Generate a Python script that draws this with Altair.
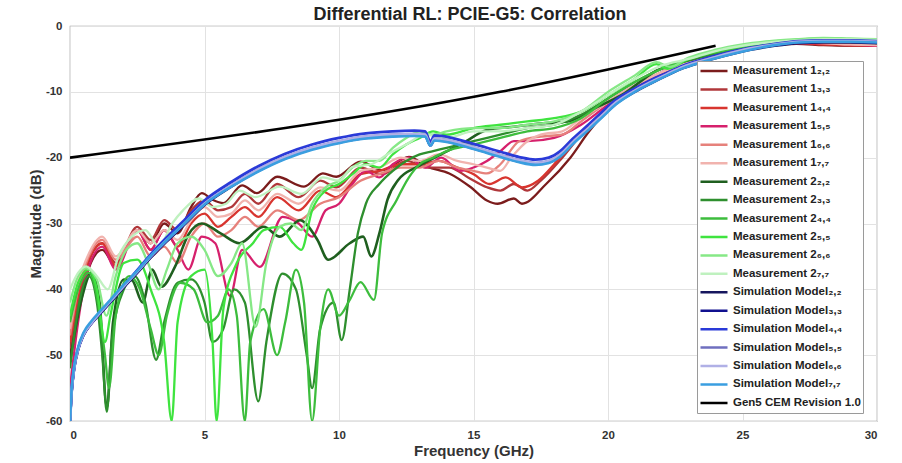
import altair as alt
import pandas as pd

FONT = "Liberation Sans"
TITLE = "Differential RL: PCIE-G5: Correlation"

# ---- Measurement 1 (frequency GHz, return loss dB) ----
M1_22 = [(0, -50), (0.3, -43), (0.6, -38), (1.2, -34), (1.7, -36.5), (2.5, -31), (3.0, -33), (3.5, -30),
         (4.0, -31.5), (4.5, -27.5), (4.9, -25.4), (5.3, -26.4), (5.7, -26.9), (6.4, -24.2), (6.95, -25.4),
         (7.7, -22.9), (8.7, -24.4), (9.4, -22.4), (9.9, -22.9), (10.8, -20.6), (11.6, -21.9), (12.6, -19.9),
         (13.3, -21.4), (14.1, -22.4), (14.9, -24.5), (15.5, -26.5), (15.9, -27), (16.5, -26.2), (16.8, -27),
         (17.7, -24), (18.6, -20), (19.3, -16), (20, -12.8), (21, -9.8), (22, -7.5), (23, -5.8), (24, -4.5),
         (25, -3.6), (26, -3), (27, -2.7), (28, -2.9), (29, -3), (30, -3)]
M1_33 = [(0, -49), (0.3, -42), (0.6, -37), (1.2, -33), (1.7, -36), (2.5, -30.5), (3.0, -32.5), (3.5, -29.5),
         (4.0, -31), (4.5, -28), (5.0, -26.5), (5.5, -28), (6.0, -27.5), (6.5, -25.5), (7.0, -27), (7.7, -24),
         (8.5, -26), (9.3, -23.5), (9.9, -24.5), (10.8, -21.5), (11.6, -22.5), (12.5, -20.5), (13.3, -21.5),
         (14.1, -21.5), (14.8, -23), (15.5, -24.5), (16, -25), (16.5, -24), (17, -25), (17.5, -23.5),
         (18.3, -20), (19, -16.5), (20, -12.5), (21, -9.5), (22, -7.2), (23, -5.6), (24, -4.3), (25, -3.5),
         (26, -2.9), (27, -2.6), (28, -2.8), (29, -3), (30, -3)]
M1_44 = [(0, -48), (0.3, -41), (0.6, -36.5), (1.2, -33), (1.7, -36.5), (2.5, -31), (3.0, -34), (3.5, -31),
         (4.0, -33.5), (4.5, -30), (5.0, -28.5), (5.5, -30.5), (6.0, -29), (6.5, -27.5), (7.0, -29), (7.7, -26),
         (8.5, -28), (9.3, -25), (9.9, -26), (10.8, -22.5), (11.5, -22), (12.3, -21), (13.0, -21), (13.7, -20.5),
         (14.4, -21.5), (15, -22.5), (15.6, -24), (16.2, -23), (16.8, -24.5), (17.4, -23.5), (18, -21),
         (18.6, -18), (19.3, -15.5), (20, -12.5), (21, -9.5), (22, -7.2), (23, -5.6), (24, -4.4), (25, -3.5),
         (26, -2.9), (27, -2.6), (28, -2.8), (29, -2.9), (30, -3)]
M1_55 = [(0, -55), (0.3, -45), (0.6, -38), (1.2, -33.5), (1.7, -37), (2.5, -31), (3.0, -34), (3.5, -31),
         (4.0, -34), (4.4, -37), (4.9, -32), (5.4, -33), (5.95, -41), (6.4, -34), (7.06, -36.6), (7.9, -29),
         (8.5, -30), (9.0, -32), (9.5, -28), (10, -27), (10.5, -24), (11, -22), (11.5, -23), (12, -21),
         (12.6, -20), (13.2, -21.5), (13.8, -20), (14.5, -22), (15, -21.5), (15.5, -20.5), (16, -19),
         (16.5, -17.5), (17, -17.5), (18, -17), (19, -15), (20, -12), (21, -9.5), (22, -7), (23, -5.5),
         (24, -4.5), (25, -3.6), (26, -3), (27, -2.6), (28, -2.6), (29, -2.8), (30, -3)]
M1_66 = [(0, -47), (0.3, -40), (0.6, -36), (1.2, -32.5), (1.7, -35.5), (2.5, -32), (3.0, -35), (3.5, -33.5),
         (4.0, -36), (4.5, -32), (5.0, -30), (5.5, -32), (6.0, -31), (6.5, -29), (7.0, -30.5), (7.7, -28),
         (8.5, -29.5), (9.3, -27), (10, -26), (10.8, -23.5), (11.5, -22.5), (12.3, -21.5), (13.0, -21.5),
         (13.7, -20.5), (14.4, -21.5), (15, -22), (15.5, -22.4), (16, -21), (16.7, -17.5), (17.5, -16.8),
         (18.3, -16.5), (19, -14.5), (20, -11.5), (21, -9), (22, -7), (23, -5.5), (24, -4.3), (25, -3.4),
         (26, -2.8), (27, -2.5), (28, -2.6), (29, -2.8), (30, -2.9)]
M1_77 = [(0, -46), (0.3, -39), (0.6, -35.5), (1.2, -32), (1.7, -35), (2.5, -31), (3.0, -33), (3.5, -31),
         (4.0, -32.5), (4.5, -29.5), (5.0, -27.5), (5.5, -29), (6.0, -28.5), (6.5, -26.5), (7.0, -28),
         (7.7, -25.5), (8.5, -27), (9.3, -24.5), (10, -25), (10.8, -22), (11.5, -21.5), (12.3, -20),
         (13.0, -20.5), (13.7, -19.5), (14.4, -20.5), (15, -21), (15.5, -21.5), (16, -22), (16.4, -20),
         (17, -17.5), (17.5, -16.5), (18.3, -16), (19, -14), (20, -11.5), (21, -9), (22, -7), (23, -5.5),
         (24, -4.3), (25, -3.4), (26, -2.8), (27, -2.5), (28, -2.6), (29, -2.8), (30, -2.9)]

# ---- Measurement 2 ----
M2_22 = [(0, -51), (0.4, -42), (0.8, -37.5), (1.1, -42), (1.37, -58), (1.6, -45), (2.0, -38.5), (2.3, -38.6),
         (2.7, -42), (3.05, -37), (3.4, -39.6), (3.9, -36.6), (4.4, -31.7), (4.9, -30), (5.6, -31.5),
         (6.3, -33), (7.2, -30.5), (7.8, -32), (8.55, -29.5), (9.2, -32.5), (9.6, -35.5), (10.4, -33),
         (10.9, -32), (11.2, -35), (11.5, -31.5), (11.8, -26.4), (12.2, -23.4), (12.9, -21.4), (13.6, -19.9),
         (14.6, -17.8), (15.5, -15.8), (16.5, -15.3), (17.5, -14.8), (18.5, -14.5), (19.5, -12.5),
         (20.5, -10.5), (21.8, -6.8), (23, -5.2), (24, -4.2), (25, -3.3), (26, -2.7), (27, -2.3), (28, -2.1),
         (29, -2.2), (30, -2.4)]
M2_33 = [(0, -52), (0.3, -43), (0.7, -38), (1.0, -42), (1.2, -50), (1.37, -58.6), (1.55, -48), (2.0, -40),
         (2.4, -38), (2.8, -42), (3.2, -50.7), (3.5, -45), (4.0, -39), (4.5, -38.5), (5.0, -42), (5.3, -48),
         (5.7, -46), (6.1, -40), (6.5, -42), (7.0, -57), (7.3, -48), (7.9, -37.6), (8.4, -40), (8.8, -50),
         (9.0, -55), (9.3, -46), (9.8, -42), (10.1, -47.7), (10.4, -40), (10.7, -31.5), (11.0, -27),
         (11.5, -24), (12.0, -22), (12.5, -20.5), (13, -19.5), (13.5, -19), (14, -18.5), (15, -17.5),
         (16, -16.5), (17, -15.5), (18, -15), (19, -13.5), (20, -11), (21, -8.5), (22, -6.5), (23, -5.2),
         (24, -4.2), (25, -3.3), (26, -2.7), (27, -2.3), (28, -2.2), (29, -2.3), (30, -2.6)]
M2_44 = [(0, -45), (0.3, -40), (0.7, -37.5), (1.0, -41), (1.3, -50), (1.45, -55), (1.7, -44), (2.2, -38),
         (2.6, -40), (3.0, -46), (3.3, -50), (3.6, -44), (4.1, -39), (4.6, -40), (5.1, -45), (5.5, -44),
         (5.9, -40), (6.2, -44), (6.5, -60), (6.7, -48), (7.2, -43), (7.7, -50), (8.0, -45), (8.4, -37),
         (8.7, -42), (9.0, -60), (9.3, -46), (9.6, -40), (10.0, -44), (10.4, -41.6), (10.8, -38.9),
         (11.3, -41.6), (11.6, -31.5), (12.15, -26.4), (12.6, -23), (13.0, -21), (13.5, -20), (14, -19),
         (15, -18), (16, -17), (17, -16), (18, -15.5), (19, -14), (20, -11), (21, -8.5), (22, -6.5), (23, -5),
         (24, -4), (25, -3.2), (26, -2.6), (27, -2.3), (28, -2.1), (29, -2.2), (30, -2.4)]
M2_55 = [(0, -44), (0.3, -39), (0.7, -37), (1.0, -40), (1.3, -48), (1.5, -44), (2.0, -36), (2.5, -35.5),
         (3.0, -40), (3.5, -48), (3.78, -60), (4.0, -45), (4.5, -38), (5.0, -37), (5.3, -48), (5.45, -60),
         (5.7, -43), (6.2, -36), (6.8, -33), (7.2, -31), (7.8, -30.5), (8.3, -33), (8.6, -34), (9.0, -28),
         (9.5, -25), (10.0, -24), (10.5, -22.5), (11.0, -21), (11.5, -21.5), (12.0, -19.5), (12.5, -18),
         (13.0, -17), (13.5, -16), (14, -16.5), (15, -15.5), (16, -15), (17, -14.5), (18, -14), (19, -13),
         (20, -10.5), (21, -8), (21.8, -5.8), (22.2, -6.5), (23, -5), (24, -3.8), (25, -3), (26, -2.4),
         (27, -2.1), (28, -1.9), (29, -2), (30, -2.1)]
M2_66 = [(0, -42), (0.3, -38), (0.6, -36.8), (1.0, -38.5), (1.35, -44), (1.7, -38), (2.1, -34), (2.5, -33),
         (2.9, -36), (3.3, -40), (3.6, -37), (4.0, -33), (4.5, -32), (5.0, -34), (5.5, -38), (6.0, -36),
         (6.4, -33), (6.9, -45.7), (7.3, -36), (7.8, -30.5), (8.2, -30), (8.6, -31), (9.0, -27), (9.5, -24.5),
         (10, -23.5), (10.5, -21.5), (11, -20.5), (11.5, -20.5), (12, -18.5), (12.5, -17), (13, -16),
         (13.5, -16.5), (14, -16), (15, -15.5), (16, -15.5), (17, -15), (18, -14.5), (19, -13), (20, -10),
         (21, -7.5), (21.8, -5.5), (22.3, -6.2), (23, -4.8), (24, -3.6), (25, -2.8), (26, -2.3), (27, -2),
         (28, -1.8), (29, -1.9), (30, -2)]
M2_77 = [(0, -40), (0.3, -37.5), (0.6, -36.5), (1.0, -38), (1.4, -40), (1.8, -35), (2.3, -32), (2.8, -31),
         (3.3, -33.5), (3.8, -30), (4.2, -28), (4.8, -26.2), (5.3, -27.5), (5.8, -27), (6.3, -25), (6.9, -26),
         (7.8, -24.4), (8.6, -25.5), (9.4, -23), (10, -23.5), (10.5, -21.4), (11.2, -21), (11.8, -19.5),
         (12.5, -18), (13.2, -16.5), (14, -17), (15, -16), (16, -16), (17, -15.5), (18, -15), (19, -13),
         (20, -10.5), (21, -8), (22, -6), (23, -5), (24, -3.8), (25, -3), (26, -2.5), (27, -2.2), (28, -2),
         (29, -2), (30, -2.1)]

# ---- Simulation models (shared frequency grid) ----
SIM_FREQ = [0, 0.05, 0.15, 0.3, 0.5, 0.8, 1.1, 1.5, 2.0, 2.5, 3.0, 3.6, 4.2, 5.0, 6.0, 7.0, 8.0, 9.0, 10.0,
            11.0, 12.0, 12.8, 13.2, 13.4, 13.55, 13.8, 14.1, 15.0, 16.0, 16.7, 17.3, 17.8, 18.2, 18.7, 19.3,
            19.8, 20.3, 21.0, 21.6, 22.2, 22.8, 23.4, 24.0, 25.3, 26.2, 27.1, 28.0, 29.0, 30.0]
SIM_22 = [-60, -56.2, -52.2, -49.2, -47.0, -45.2, -43.8, -42.0, -39.7, -37.5, -35.2, -32.7, -30.4, -27.2,
          -24.4, -22.0, -20.1, -18.7, -17.7, -17.0, -16.7, -16.6, -16.7, -18.1, -17.3, -17.4, -17.6, -18.6,
          -19.8, -20.6, -21.0, -20.7, -19.8, -17.8, -15.6, -13.7, -11.8, -10.0, -8.7, -7.5, -6.4, -5.6, -4.9,
          -3.6, -3.0, -2.6, -2.5, -2.5, -2.6]
SIM_33 = [-60, -56.1, -52.1, -49.1, -46.9, -45.1, -43.7, -41.9, -39.6, -37.4, -35.1, -32.6, -30.3, -27.1,
          -24.3, -21.9, -20.0, -18.6, -17.6, -16.9, -16.6, -16.5, -16.6, -18.2, -17.2, -17.3, -17.5, -18.5,
          -19.7, -20.5, -20.9, -20.6, -19.7, -17.7, -15.5, -13.6, -11.7, -9.9, -8.6, -7.4, -6.3, -5.5, -4.8,
          -3.5, -2.9, -2.5, -2.4, -2.4, -2.5]
SIM_44 = [-60, -56.1, -52.1, -49.1, -46.9, -45.1, -43.7, -41.8, -39.4, -37.1, -34.7, -32.1, -29.7, -26.5,
          -23.7, -21.3, -19.4, -18.0, -17.0, -16.3, -16.0, -15.9, -16.0, -17.6, -16.6, -16.7, -16.9, -17.9,
          -19.1, -19.9, -20.3, -20.0, -19.1, -17.1, -14.9, -13.0, -11.2, -9.5, -8.2, -7.1, -6.0, -5.2, -4.5,
          -3.3, -2.7, -2.3, -2.2, -2.2, -2.3]
SIM_55 = [-60, -56.0, -52.0, -49.0, -46.8, -45.0, -43.6, -41.8, -39.5, -37.3, -35.0, -32.5, -30.2, -27.0,
          -24.2, -21.8, -19.9, -18.5, -17.5, -16.8, -16.5, -16.4, -16.5, -18.0, -17.1, -17.2, -17.4, -18.4,
          -19.6, -20.4, -20.8, -20.5, -19.6, -17.6, -15.4, -13.5, -11.6, -9.8, -8.5, -7.3, -6.2, -5.4, -4.7,
          -3.4, -2.8, -2.4, -2.3, -2.3, -2.4]
SIM_66 = [-60, -56.0, -52.1, -49.1, -46.9, -45.1, -43.6, -41.8, -39.5, -37.3, -35.0, -32.5, -30.2, -27.0,
          -24.2, -21.8, -19.9, -18.5, -17.5, -16.8, -16.5, -16.4, -16.5, -18.2, -17.1, -17.2, -17.4, -18.4,
          -19.6, -20.4, -20.8, -20.5, -19.6, -17.6, -15.4, -13.5, -11.6, -9.8, -8.5, -7.3, -6.2, -5.4, -4.7,
          -3.4, -2.8, -2.4, -2.3, -2.3, -2.4]
SIM_77 = [-60, -55.8, -51.8, -48.8, -46.6, -44.8, -43.4, -41.6, -39.3, -37.2, -34.9, -32.5, -30.2, -27.1,
          -24.4, -22.1, -20.2, -18.8, -17.8, -17.1, -16.8, -16.7, -16.8, -18.2, -17.4, -17.5, -17.7, -18.7,
          -19.9, -20.7, -21.1, -20.8, -19.9, -17.9, -15.7, -13.8, -11.9, -10.0, -8.7, -7.5, -6.4, -5.6, -4.9,
          -3.6, -2.9, -2.5, -2.4, -2.4, -2.5]

# ---- Gen5 CEM return-loss limit ----
GEN5_CEM = [(0, -20), (16, -10), (24, -3)]


def sim(values):
    return list(zip(SIM_FREQ, values))


# name, points, colour, line width (drawing order = legend order)
SERIES = [
    ("Measurement 1₂,₂", M1_22, "#7b1c1c", 2.3),
    ("Measurement 1₃,₃", M1_33, "#b0373a", 2.3),
    ("Measurement 1₄,₄", M1_44, "#d8352f", 2.3),
    ("Measurement 1₅,₅", M1_55, "#d6206c", 2.3),
    ("Measurement 1₆,₆", M1_66, "#e6817b", 2.3),
    ("Measurement 1₇,₇", M1_77, "#f1b3ae", 2.3),
    ("Measurement 2₂,₂", M2_22, "#1f5f1f", 2.6),
    ("Measurement 2₃,₃", M2_33, "#2e8f2e", 2.3),
    ("Measurement 2₄,₄", M2_44, "#3dbd3d", 2.3),
    ("Measurement 2₅,₅", M2_55, "#3fe43f", 2.3),
    ("Measurement 2₆,₆", M2_66, "#86e886", 2.3),
    ("Measurement 2₇,₇", M2_77, "#bff1bf", 2.3),
    ("Simulation Model₂,₂", sim(SIM_22), "#16165e", 2.6),
    ("Simulation Model₃,₃", sim(SIM_33), "#10108f", 2.6),
    ("Simulation Model₄,₄", sim(SIM_44), "#2a3ad8", 2.8),
    ("Simulation Model₅,₅", sim(SIM_55), "#6f6fbf", 2.6),
    ("Simulation Model₆,₆", sim(SIM_66), "#b0b0e6", 2.6),
    ("Simulation Model₇,₇", sim(SIM_77), "#3a9ee0", 2.6),
    ("Gen5 CEM Revision 1.0", GEN5_CEM, "#000000", 2.6),
]

names = [s[0] for s in SERIES]
colors = [s[2] for s in SERIES]
color_scale = alt.Scale(domain=names, range=colors)

legend = alt.Legend(
    orient="none", legendX=627, legendY=35, title=None,
    symbolType="stroke", symbolSize=729, symbolStrokeWidth=2.5,
    clipHeight=16, rowPadding=2.44, padding=2, labelOffset=4,
    labelFont=FONT, labelFontWeight="bold", labelFontSize=11.5, labelColor="#222222", labelLimit=400,
    fillColor="white", strokeColor="#9a9a9a", cornerRadius=0,
)

x_enc = alt.X(
    "freq:Q",
    scale=alt.Scale(domain=[0, 30], nice=False, zero=False),
    axis=alt.Axis(
        title="Frequency (GHz)", values=[0, 5, 10, 15, 20, 25, 30], labelExpr="datum.value + ''",
        labelFont=FONT, labelFontSize=11.5, labelFontWeight="bold", labelColor="#333333", labelPadding=8,
        titleFont=FONT, titleFontSize=15, titleFontWeight="bold", titleColor="#333333", titlePadding=3,
        grid=True, gridColor="#e2e2e2", ticks=False, domain=False,
    ),
)
y_enc = alt.Y(
    "db:Q",
    scale=alt.Scale(domain=[-60, 0], nice=False, zero=False),
    axis=alt.Axis(
        title="Magnitude (dB)", values=[0, -10, -20, -30, -40, -50, -60], labelExpr="datum.value + ''",
        labelFont=FONT, labelFontSize=11.5, labelFontWeight="bold", labelColor="#333333", labelPadding=8,
        titleFont=FONT, titleFontSize=15, titleFontWeight="bold", titleColor="#333333", titlePadding=2,
        grid=True, gridColor="#e2e2e2", ticks=False, domain=False,
    ),
)

layers = []
for name, pts, color, width in SERIES:
    df = pd.DataFrame(pts, columns=["freq", "db"])
    df["series"] = name
    layers.append(
        alt.Chart(df)
        .mark_line(strokeWidth=width, interpolate="monotone", clip=True)
        .encode(x=x_enc, y=y_enc, color=alt.Color("series:N", scale=color_scale, legend=legend))
    )

# chart heading, centred over the plot area
heading = alt.Chart(pd.DataFrame({"label": [TITLE]})).mark_text(
    font=FONT, fontSize=18, fontWeight="bold", color="#222222", align="center", baseline="alphabetic"
).encode(x=alt.value(400), y=alt.value(-6), text="label:N")
layers.append(heading)

chart = (
    alt.layer(*layers)
    .properties(
        width=807, height=395,
        autosize=alt.AutoSizeParams(type="none"),
        padding={"left": 70, "top": 26, "right": 25, "bottom": 42},
    )
    .configure(background="white")
    .configure_view(stroke="#9a9a9a", strokeWidth=1.2)
)

chart.save("out.html", embed_options={"renderer": "svg", "actions": False})
